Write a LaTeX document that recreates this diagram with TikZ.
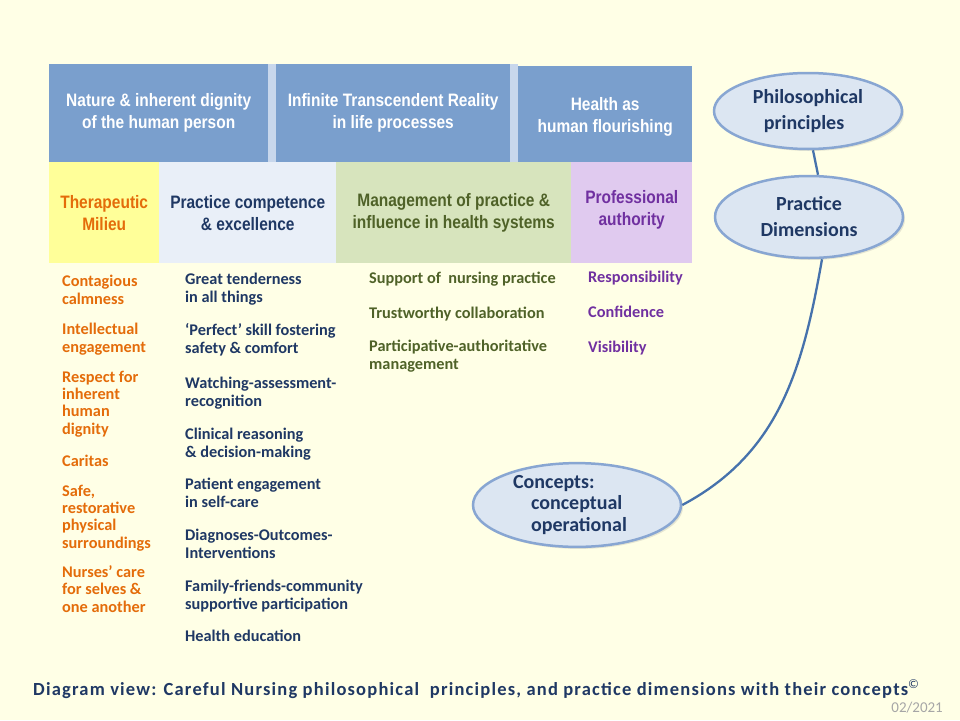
\documentclass[tikz,border=0pt]{standalone}
\usepackage{fontspec}
\setmainfont{Carlito}
\newfontfamily\narrowfont[FakeStretch=0.86]{Liberation Sans}
\newfontfamily\captionfont[LetterSpace=6.5]{Carlito}
\usetikzlibrary{positioning}
\usetikzlibrary{shapes.geometric}
\usetikzlibrary{shadows}
\definecolor{bgcream}{HTML}{FFFFE6}
\definecolor{headblue}{HTML}{7A9FCD}
\definecolor{gapblue}{HTML}{C8D7EC}
\definecolor{milieu}{HTML}{FFFF99}
\definecolor{compet}{HTML}{E9EFF8}
\definecolor{manage}{HTML}{D7E4BD}
\definecolor{author}{HTML}{E0CAEF}
\definecolor{orangetxt}{HTML}{E46C0A}
\definecolor{navytxt}{HTML}{1F3864}
\definecolor{olivetxt}{HTML}{4F6228}
\definecolor{purpletxt}{HTML}{7030A0}
\definecolor{ellfill}{HTML}{DCE6F2}
\definecolor{elldraw}{HTML}{88A6D2}
\definecolor{linkblue}{HTML}{4672AC}
\tikzset{
    headbox/.style = {rectangle, fill=headblue, anchor=north west, align=center, inner sep=0pt,
                      text=white, font=\narrowfont\bfseries\fontsize{18}{22}\selectfont},
    dimbox/.style  = {rectangle, anchor=north west, align=center, inner sep=0pt,
                      font=\narrowfont\bfseries\fontsize{18}{22}\selectfont},
    itemo/.style   = {anchor=base west, align=left, inner sep=0pt, text=orangetxt,
                      font=\bfseries\fontsize{16.3}{17.3}\selectfont},
    itemn/.style   = {itemo, text=navytxt},
    itemg/.style   = {itemo, text=olivetxt},
    itemp/.style   = {itemo, text=purpletxt},
    bubble/.style  = {ellipse, fill=ellfill, draw=elldraw, line width=2.5pt, inner sep=0pt,
                      align=center, text=navytxt, font=\bfseries\fontsize{20}{26}\selectfont,
                      drop shadow={opacity=0.2, shadow xshift=2pt, shadow yshift=-2pt}},
    link/.style    = {-, line width=2.3pt, linkblue}
}
\begin{document}
\begin{tikzpicture}[x=1pt, y=-1pt]
  \useasboundingbox[fill=bgcream] (0,0) rectangle (960,720);
  % philosophical principles
  \fill[gapblue] (268,64) rectangle (518,162);
  \node[headbox, minimum width=219pt, minimum height=98pt] (nat) at (49,64)
    {Nature \& inherent dignity\\of the human person};
  \node[headbox, minimum width=234pt, minimum height=98pt] (inf) at (276,64)
    {Infinite Transcendent Reality\\in life processes};
  \node[headbox, minimum width=174pt, minimum height=96pt] (hea) at (518,66)
    {\rule{0pt}{18pt}Health as\\human flourishing};
  % practice dimensions
  \node[dimbox, fill=milieu, text=orangetxt, minimum width=110pt, minimum height=101pt] (mil) at (49,162)
    {Therapeutic\\Milieu};
  \node[dimbox, fill=compet, text=navytxt, minimum width=177pt, minimum height=101pt] (com) at (159,162)
    {Practice competence\\\& excellence};
  \node[dimbox, fill=manage, text=olivetxt, minimum width=235pt, minimum height=101pt] (man) at (336,162)
    {Management of practice \&\\influence in health systems};
  \node[dimbox, fill=author, text=purpletxt, minimum width=121pt, minimum height=101pt] (aut) at (571,162)
    {Professional\\authority\rule[-9pt]{0pt}{0pt}};
  % concepts: therapeutic milieu (placed by last line)
  \node[itemo] (m1) at (62,304) {Contagious\\calmness};
  \node[itemo] (m2) at (62,352) {Intellectual\\engagement};
  \node[itemo] (m3) at (62,434) {Respect for\\inherent\\human\\dignity};
  \node[itemo] (m4) at (62,466) {Caritas};
  \node[itemo] (m5) at (62,548) {Safe,\\restorative\\physical\\surroundings};
  \node[itemo] (m6) at (62,612) {Nurses’ care\\for selves \&\\one another};
  % concepts: practice competence
  \node[itemn] (c1) at (185,302) {Great tenderness\\in all things};
  \node[itemn] (c2) at (185,353) {‘Perfect’ skill fostering\\safety \& comfort};
  \node[itemn] (c3) at (185,406) {Watching-assessment-\\recognition};
  \node[itemn] (c4) at (185,457) {Clinical reasoning\\\& decision-making};
  \node[itemn] (c5) at (185,507) {Patient engagement\\in self-care};
  \node[itemn] (c6) at (185,558) {Diagnoses-Outcomes-\\Interventions};
  \node[itemn] (c7) at (185,609) {Family-friends-community\\supportive participation};
  \node[itemn] (c8) at (185,641) {Health education};
  % concepts: management
  \node[itemg] (g1) at (369,283) {Support of~ nursing practice};
  \node[itemg] (g2) at (369,318) {Trustworthy collaboration};
  \node[itemg] (g3) at (369,369) {Participative-authoritative\\management};
  % concepts: professional authority
  \node[itemp] (p1) at (588,282) {Responsibility};
  \node[itemp] (p2) at (588,317) {Confidence};
  \node[itemp] (p3) at (588,352) {Visibility};
  % legend bubbles
  \node[bubble, minimum width=188pt, minimum height=76pt] (pp) at (808,111) {Philosophical\\principles\hspace*{8pt}};
  \node[bubble, minimum width=188pt, minimum height=82pt] (pd) at (809,217) {Practice\\Dimensions};
  \node[bubble, minimum width=208pt, minimum height=83pt, align=left,
        font=\bfseries\fontsize{20}{21.5}\selectfont] (cc) at (577,505)
    {Concepts:\\\hspace{18pt}conceptual\\\hspace{18pt}operational\hspace*{14pt}};
  \draw[link] ([xshift=5pt]pp.south) -- ([xshift=9pt]pd.north);
  \draw[link] ([xshift=13pt]pd.south) to[out=-100,in=28] (cc.east);
  % caption
  \node[anchor=base west, inner sep=0pt, text=navytxt, font=\captionfont\bfseries\fontsize{18.5}{20}\selectfont] (cap) at (33,695)
    {Diagram view: Careful Nursing philosophical~ principles, and practice dimensions with their concepts\textsuperscript{\normalfont\textcopyright}};
  \node[anchor=base east, inner sep=0pt, text=gray!70, font=\fontsize{15}{17}\selectfont] (date) at (943,712) {02/2021};
\end{tikzpicture}
\end{document}
